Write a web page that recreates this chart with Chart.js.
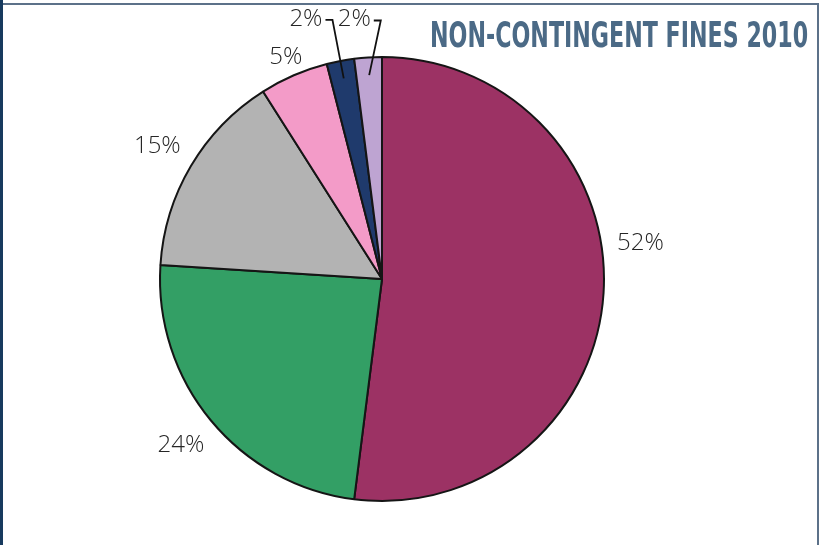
<!DOCTYPE html>
<html>
<head>
<meta charset="utf-8">
<script src="https://cdn.jsdelivr.net/npm/chart.js@4"></script>
<style>
  html, body { margin: 0; padding: 0; background: #fff; }
  #frame { position: relative; width: 820px; height: 545px; overflow: hidden; }
  #leftBar { position: absolute; left: 0; top: 0; width: 3px; height: 545px; background: #173a5e; }
  #topLine { position: absolute; left: 3px; top: 3px; width: 816px; height: 2px; background: #5c7189; }
  #rightLine { position: absolute; left: 817px; top: 3px; width: 2px; height: 542px; background: #5c7189; }
  #title {
    position: absolute; right: 12px; top: 14px;
    font-family: "DejaVu Sans Condensed", "Liberation Sans", sans-serif;
    font-weight: bold; font-size: 36px; color: #4b6a86;
    white-space: nowrap; transform-origin: right top;
  }
  canvas { position: absolute; left: 0; top: 0; }
</style>
</head>
<body>
<div id="frame">
  <canvas id="fines" width="820" height="545"></canvas>
  <div id="leftBar"></div>
  <div id="topLine"></div>
  <div id="rightLine"></div>
  <div id="title">NON-CONTINGENT FINES 2010</div>
</div>
<script>
// fine categories, clockwise from 12 o'clock
const categories = ['A', 'B', 'C', 'D', 'E', 'F'];
const shares = [52, 24, 15, 5, 2, 2];
const sliceColors = ['#9c3264', '#339f65', '#b3b3b3', '#f39bc8', '#1f3a6c', '#bea4d2'];

// where each percent label sits: angle clockwise from top (null = slice middle),
// distance of the text centre from the pie centre, and whether it gets a leader line
const labelPlacement = [
  { angle: 82, dist: 261 },
  { angle: null, dist: 261 },
  { angle: null, dist: 261 },
  { angle: null, dist: 242 },
  { angle: 343.7, dist: 271, leader: true },
  { angle: 353.9, dist: 261, leader: true },
];

// squeeze the heading into a condensed look
const title = document.getElementById('title');
title.style.transform = 'scaleX(' + (378 / title.offsetWidth) + ')';

const pctLabels = {
  id: 'pctLabels',
  afterDatasetsDraw(chart) {
    const ctx = chart.ctx;
    const arcs = chart.getDatasetMeta(0).data;
    ctx.save();
    ctx.font = '300 24px "Open Sans", "DejaVu Sans", sans-serif';
    ctx.fillStyle = '#262626';
    ctx.textAlign = 'center';
    ctx.textBaseline = 'middle';
    arcs.forEach((arc, i) => {
      const p = labelPlacement[i];
      const mid = (arc.startAngle + arc.endAngle) / 2;
      const a = p.angle == null ? mid : (p.angle - 90) * Math.PI / 180;
      const tx = arc.x + Math.cos(a) * p.dist;
      const ty = arc.y + Math.sin(a) * p.dist;
      const text = shares[i] + '%';
      ctx.fillText(text, tx, ty);
      if (p.leader) {
        const w = ctx.measureText(text).width;
        const x0 = tx + w / 2 + 3;
        const inner = arc.outerRadius * 0.92;
        ctx.beginPath();
        ctx.strokeStyle = '#111';
        ctx.lineWidth = 1.8;
        ctx.moveTo(x0, ty + 1);
        ctx.lineTo(x0 + 7, ty + 1);
        ctx.lineTo(arc.x + Math.cos(mid) * inner, arc.y + Math.sin(mid) * inner);
        ctx.stroke();
      }
    });
    ctx.restore();
  }
};

new Chart(document.getElementById('fines'), {
  type: 'pie',
  data: {
    labels: categories,
    datasets: [{
      data: shares,
      backgroundColor: sliceColors,
      borderColor: '#151515',
      borderWidth: 2
    }]
  },
  options: {
    responsive: false,
    animation: false,
    layout: { padding: { left: 159, right: 215, top: 56, bottom: 43 } },
    plugins: {
      legend: { display: false },
      tooltip: { enabled: false }
    }
  },
  plugins: [pctLabels]
});
</script>
</body>
</html>
